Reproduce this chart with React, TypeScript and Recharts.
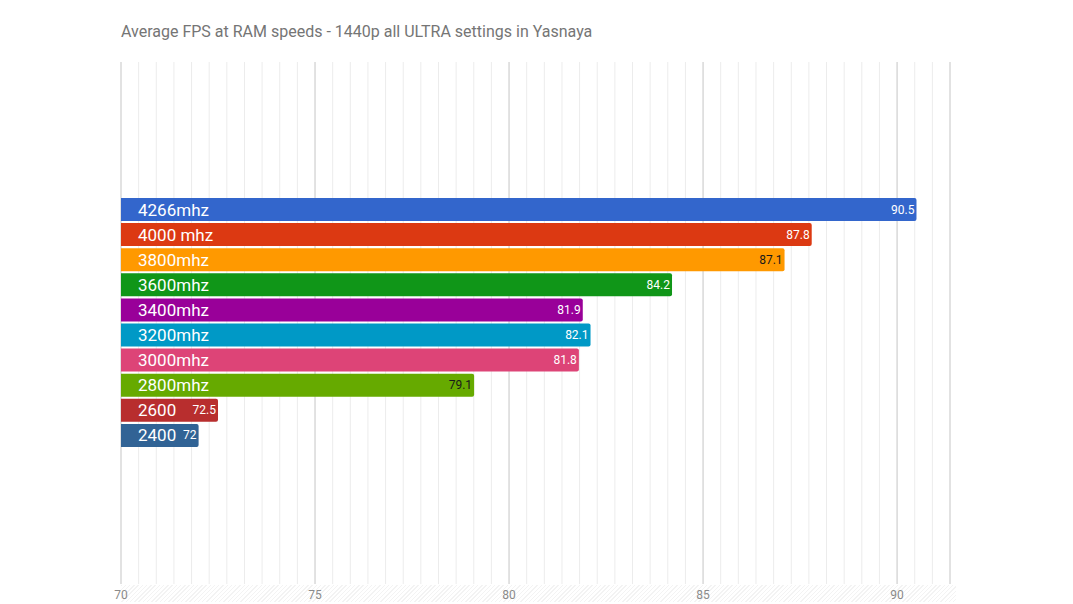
import React from 'react';
import {
  BarChart,
  Bar,
  XAxis,
  YAxis,
  CartesianGrid,
  LabelList,
  Cell,
} from 'recharts';

// ─── Data ─────────────────────────────────────────────────────────────────────

const speeds = [
  '4266mhz',
  '4000 mhz',
  '3800mhz',
  '3600mhz',
  '3400mhz',
  '3200mhz',
  '3000mhz',
  '2800mhz',
  '2600',
  '2400',
];

const avgFps = [90.5, 87.8, 87.1, 84.2, 81.9, 82.1, 81.8, 79.1, 72.5, 72];

const xTicks = [70, 75, 80, 85, 90];

// ─── Styling ──────────────────────────────────────────────────────────────────

const barColors = [
  '#3366cc',
  '#dc3912',
  '#ff9900',
  '#109618',
  '#990099',
  '#0099c6',
  '#dd4477',
  '#66aa00',
  '#b82e2e',
  '#316395',
];

// value text is dark on the light bars (orange, lime)
const valueTextColors = [
  '#ffffff',
  '#ffffff',
  '#1a1a1a',
  '#ffffff',
  '#ffffff',
  '#ffffff',
  '#ffffff',
  '#1a1a1a',
  '#ffffff',
  '#ffffff',
];

const X_MIN = 70;
const MINOR_STEP = 5 / 11;
const MINOR_COUNT = 47;
const X_MAX = X_MIN + MINOR_STEP * MINOR_COUNT;

const minorLines = Array.from({ length: MINOR_COUNT + 1 }, (_, i) => X_MIN + i * MINOR_STEP);

const chartData = speeds.map((name, i) => ({ name, value: avgFps[i] }));

const FONT = 'Roboto, "Noto Sans", sans-serif';

// ─── Value label ──────────────────────────────────────────────────────────────

const ValueLabel = (props: any) => {
  const { x, y, width, height, value, index } = props;
  return (
    <text
      x={Number(x) + Number(width) - 2}
      y={Number(y) + Number(height) / 2}
      textAnchor="end"
      dominantBaseline="central"
      fontSize={12}
      fontFamily={FONT}
      fill={valueTextColors[index] ?? '#fff'}
    >
      {value}
    </text>
  );
};

// ─── Chart ────────────────────────────────────────────────────────────────────

const App: React.FC = () => {
  return (
    <div
      style={{
        position: 'absolute',
        top: 0,
        left: 0,
        width: 1073,
        height: 604,
        background: '#ffffff',
        fontFamily: FONT,
        overflow: 'hidden',
      }}
    >
      <div
        style={{
          position: 'absolute',
          left: 121,
          top: 22,
          fontSize: 16,
          color: '#757575',
          whiteSpace: 'nowrap',
        }}
      >
        Average FPS at RAM speeds - 1440p all ULTRA settings in Yasnaya
      </div>

      {/* hatched strip behind the axis labels */}
      <div
        style={{
          position: 'absolute',
          left: 121,
          top: 585,
          width: 835,
          height: 17,
          background:
            'repeating-linear-gradient(135deg, #f3f3f3 0px, #f3f3f3 1px, #ffffff 1px, #ffffff 3px)',
        }}
      />

      <div style={{ position: 'absolute', top: 0, left: 0 }}>
        <BarChart
          width={1073}
          height={604}
          data={chartData}
          layout="vertical"
          margin={{ top: 62, right: 123, bottom: 0, left: 121 }}
          barCategoryGap={1}
        >
          {/* minor + major vertical gridlines, drawn behind the bars */}
          <CartesianGrid horizontal={false} stroke="#ececec" xAxisId="minor" />
          <CartesianGrid horizontal={false} stroke="#cfcfcf" />

          <XAxis
            xAxisId="minor"
            type="number"
            domain={[X_MIN, X_MAX]}
            ticks={minorLines}
            interval={0}
            allowDataOverflow
            hide
          />
          <XAxis
            type="number"
            domain={[X_MIN, X_MAX]}
            ticks={xTicks}
            interval={0}
            allowDataOverflow
            tickLine={false}
            axisLine={false}
            tickSize={0}
            tickMargin={6}
            height={20}
            tick={{ fill: '#8a8a8a', fontSize: 12, fontFamily: FONT }}
          />
          <YAxis
            type="category"
            dataKey="name"
            hide
            padding={{ top: 135, bottom: 136 }}
          />

          <Bar
            dataKey="value"
            isAnimationActive={false}
            radius={[0, 2, 2, 0]}
            barSize={23}
          >
            {chartData.map((d, i) => (
              <Cell key={d.name} fill={barColors[i]} />
            ))}
            <LabelList
              dataKey="name"
              position="insideLeft"
              offset={17}
              fill="#ffffff"
              fontSize={17}
              fontFamily={FONT}
            />
            <LabelList dataKey="value" content={<ValueLabel />} />
          </Bar>
        </BarChart>
      </div>
    </div>
  );
};

export default App;
